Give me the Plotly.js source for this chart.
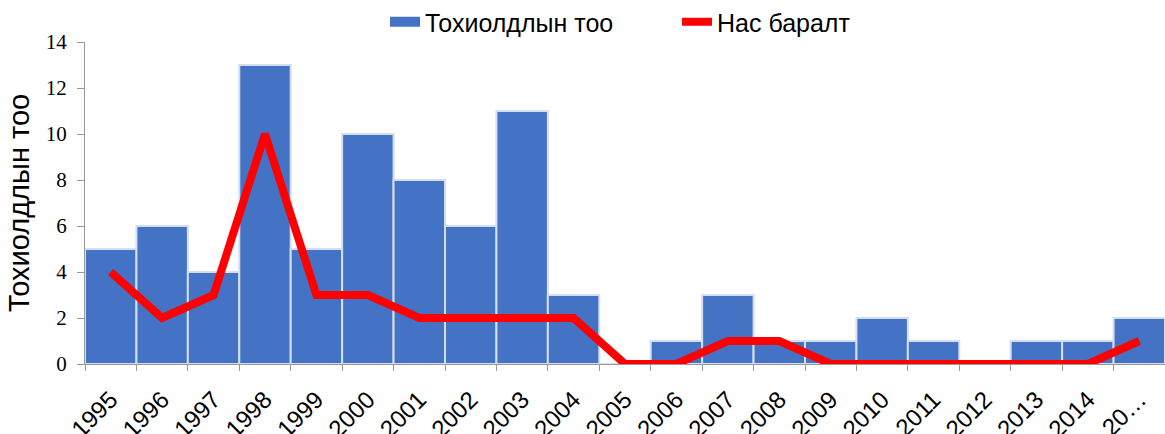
<!DOCTYPE html>
<html>
<head>
<meta charset="utf-8">
<script src="https://cdn.plot.ly/plotly-3.0.1.min.js"></script>
<style>html,body{margin:0;padding:0;background:#fff;}#chart{width:1165px;height:434px;}</style>
</head>
<body>
<div id="chart"></div>
<script>
const years = ['1995','1996','1997','1998','1999','2000','2001','2002','2003','2004','2005','2006','2007','2008','2009','2010','2011','2012','2013','2014','2015'];
const tickLabels = ['1995','1996','1997','1998','1999','2000','2001','2002','2003','2004','2005','2006','2007','2008','2009','2010','2011','2012','2013','2014','20…'];
const cases = [5,6,4,13,5,10,8,6,11,3,0,1,3,1,1,2,1,0,1,1,2];
const deaths = [4,2,3,10,3,3,2,2,2,2,0,0,1,1,0,0,0,0,0,0,1];
const seriesNames = ['Тохиолдлын тоо','Нас баралт'];
const yTitle = 'Тохиолдлын тоо';

const legendFont = {family:'Liberation Sans, Arial, sans-serif', size:25, color:'#000'};
const traces = [
  {type:'bar', x:years, y:cases, name:seriesNames[0], showlegend:false,
   marker:{color:'#4472C4', line:{color:'#D3DEF1', width:2}}},
  // legend entry for the bars, drawn as a wide swatch
  {type:'scatter', mode:'lines', x:[years[0]], y:[null], name:seriesNames[0], legend:'legend',
   line:{color:'#4472C4', width:10}},
  {type:'scatter', mode:'lines', x:years, y:deaths, name:seriesNames[1], legend:'legend2',
   line:{color:'#FF0000', width:8, shape:'linear'}}
];
const layout = {
  width:1165, height:434,
  margin:{l:85, r:0, t:42, b:70, pad:0, autoexpand:false},
  paper_bgcolor:'#fff', plot_bgcolor:'#fff',
  bargap:0,
  showlegend:true,
  legend:{orientation:'h', xref:'container', x:385/1165, xanchor:'left', yref:'container', y:1-22/434, yanchor:'middle',
          font:legendFont, bgcolor:'rgba(0,0,0,0)'},
  legend2:{orientation:'h', xref:'container', x:677/1165, xanchor:'left', yref:'container', y:1-22/434, yanchor:'middle',
          font:legendFont, bgcolor:'rgba(0,0,0,0)'},
  xaxis:{type:'category', tickmode:'array', tickvals:years, ticktext:tickLabels,
         tickson:'boundaries', ticks:'outside', ticklen:6, tickcolor:'#999', tickwidth:1,
         showline:true, linecolor:'#999', linewidth:1, showgrid:false, zeroline:false,
         ticklabelstandoff:11,
         tickangle:-45, tickfont:{family:'Liberation Sans, Arial, sans-serif', size:24, color:'#000'}},
  yaxis:{range:[0,14], dtick:2, ticks:'outside', ticklen:7, tickcolor:'#999', tickwidth:1,
         showline:true, linecolor:'#999', linewidth:1, showgrid:false, zeroline:false,
         ticklabelstandoff:6,
         tickfont:{family:'Liberation Serif, Times New Roman, serif', size:21, color:'#000'},
         title:{text:yTitle, standoff:7, font:{family:'Liberation Sans, Arial, sans-serif', size:29, color:'#000'}}}
};
Plotly.newPlot('chart', traces, layout, {displayModeBar:false, staticPlot:true});
</script>
</body>
</html>
